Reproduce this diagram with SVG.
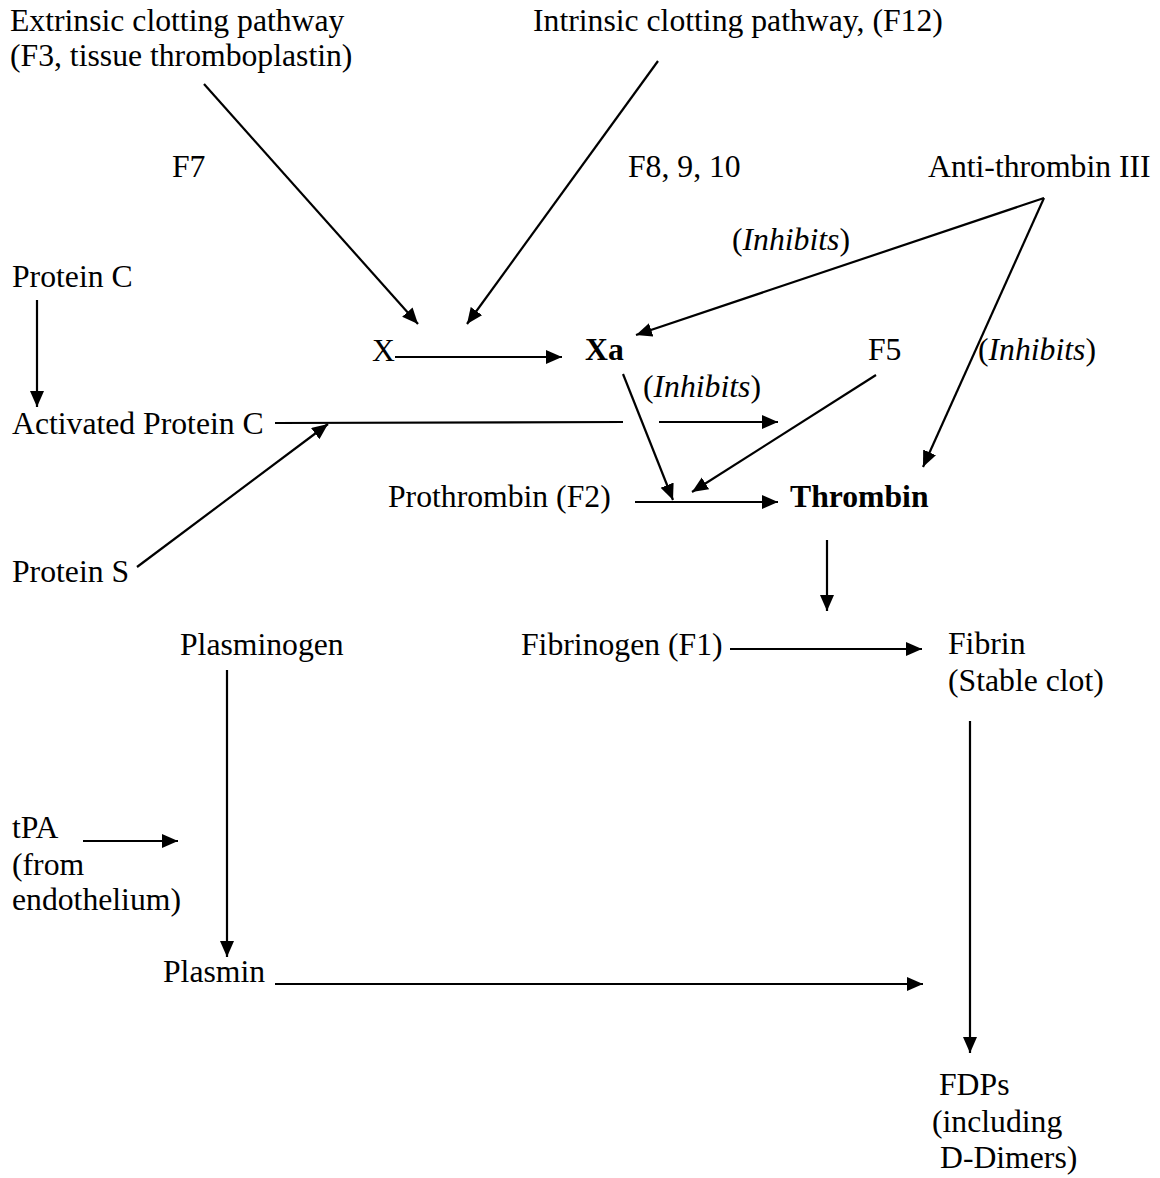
<svg xmlns="http://www.w3.org/2000/svg" width="1160" height="1178" viewBox="0 0 1160 1178">
<defs>
<marker id="ah" markerUnits="userSpaceOnUse" markerWidth="17" markerHeight="15" refX="16" refY="7" orient="auto">
<path d="M0,0 L16,7 L0,14 z" fill="#000"/>
</marker>
<style>
text{font-family:"Liberation Serif","Times New Roman",serif;font-size:31.7px;fill:#000}
.b{font-weight:bold}
.i{font-style:italic}
.c line{stroke:#000;stroke-width:2.2;fill:none}
.c .a{marker-end:url(#ah)}
</style>
</defs>
<rect width="1160" height="1178" fill="#fff"/>
<g class="c" id="connectors">
<line class="a" x1="204" y1="84" x2="418" y2="324"/>
<line class="a" x1="658" y1="61" x2="467" y2="324"/>
<line class="a" x1="395" y1="357" x2="562" y2="357"/>
<line class="a" x1="1044" y1="198" x2="636" y2="335"/>
<line class="a" x1="1044" y1="198" x2="923" y2="467"/>
<line class="a" x1="37" y1="300" x2="37" y2="407"/>
<line x1="275" y1="423" x2="623" y2="422"/>
<line class="a" x1="659" y1="422" x2="778" y2="422"/>
<line class="a" x1="137" y1="567" x2="328" y2="424"/>
<line class="a" x1="623" y1="374" x2="673" y2="500"/>
<line class="a" x1="876" y1="375" x2="692" y2="492"/>
<line class="a" x1="635" y1="502" x2="778" y2="502"/>
<line class="a" x1="827" y1="540" x2="827" y2="611"/>
<line class="a" x1="730" y1="649" x2="922" y2="649"/>
<line class="a" x1="227" y1="670" x2="227" y2="957"/>
<line class="a" x1="83" y1="841" x2="178" y2="841"/>
<line class="a" x1="275" y1="984" x2="923" y2="984"/>
<line class="a" x1="970" y1="721" x2="970" y2="1053"/>
</g>
<g id="extrinsic"><text x="10" y="31">Extrinsic clotting pathway</text><text x="10" y="66">(F3, tissue thromboplastin)</text></g>
<g id="intrinsic"><text x="533" y="31">Intrinsic clotting pathway, (F12)</text></g>
<g id="f7"><text x="172" y="177">F7</text></g>
<g id="f8910"><text x="628" y="177">F8, 9, 10</text></g>
<g id="antithrombin"><text x="928" y="177">Anti-thrombin III</text></g>
<g id="inhibits1"><text x="732" y="250">(<tspan class="i">Inhibits</tspan>)</text></g>
<g id="proteinC"><text x="12" y="287">Protein C</text></g>
<g id="x"><text x="372" y="361">X</text></g>
<g id="xa"><text class="b" x="585" y="360">Xa</text></g>
<g id="f5"><text x="868" y="360">F5</text></g>
<g id="inhibits2"><text x="978" y="360">(<tspan class="i">Inhibits</tspan>)</text></g>
<g id="inhibits3"><text x="643" y="397">(<tspan class="i">Inhibits</tspan>)</text></g>
<g id="apc"><text x="12" y="434">Activated Protein C</text></g>
<g id="prothrombin"><text x="388" y="507">Prothrombin (F2)</text></g>
<g id="thrombin"><text class="b" x="790" y="507">Thrombin</text></g>
<g id="proteinS"><text x="12" y="582">Protein S</text></g>
<g id="plasminogen"><text x="180" y="655">Plasminogen</text></g>
<g id="fibrinogen"><text x="521" y="655">Fibrinogen (F1)</text></g>
<g id="fibrin"><text x="948" y="654">Fibrin</text><text x="948" y="691">(Stable clot)</text></g>
<g id="tpa"><text x="12" y="838">tPA</text><text x="12" y="875">(from</text><text x="12" y="910">endothelium)</text></g>
<g id="plasmin"><text x="163" y="982">Plasmin</text></g>
<g id="fdps"><text x="939" y="1095">FDPs</text><text x="932" y="1132">(including</text><text x="940" y="1168">D-Dimers)</text></g>
</svg>
